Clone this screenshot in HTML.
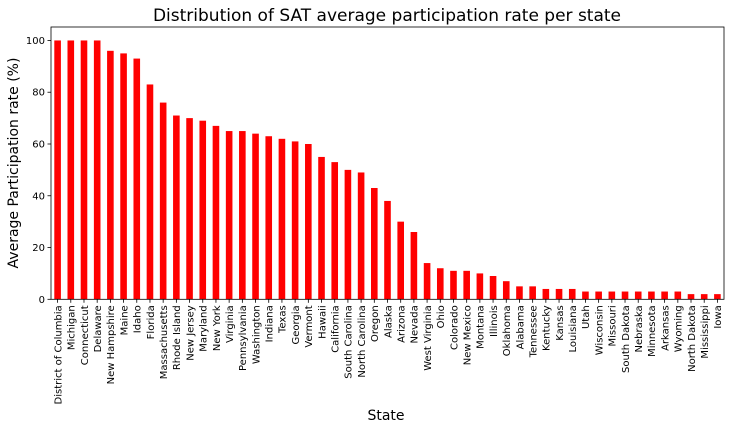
<!DOCTYPE html>
<html><head><meta charset="utf-8"><style>
body{margin:0;background:#fff;}
svg text{font-family:"DejaVu Sans",sans-serif;fill:#000;}
</style></head><body>
<svg id="chart" width="731" height="430">
<text x="387" y="21" font-size="17" text-anchor="middle">Distribution of SAT average participation rate per state</text>
<text transform="translate(18,163) rotate(-90)" font-size="14" text-anchor="middle">Average Participation rate (%)</text>
<text x="386" y="420" font-size="14" text-anchor="middle">State</text>
<g id="bars"></g><g id="axes"></g>
</svg>
<script>
const states=["District of Columbia","Michigan","Connecticut","Delaware","New Hampshire","Maine","Idaho","Florida","Massachusetts","Rhode Island","New Jersey","Maryland","New York","Virginia","Pennsylvania","Washington","Indiana","Texas","Georgia","Vermont","Hawaii","California","South Carolina","North Carolina","Oregon","Alaska","Arizona","Nevada","West Virginia","Ohio","Colorado","New Mexico","Montana","Illinois","Oklahoma","Alabama","Tennessee","Kentucky","Kansas","Louisiana","Utah","Wisconsin","Missouri","South Dakota","Nebraska","Minnesota","Arkansas","Wyoming","North Dakota","Mississippi","Iowa"];
const rates=[100,100,100,100,96,95,93,83,76,71,70,69,67,65,65,64,63,62,61,60,55,53,50,49,43,38,30,26,14,12,11,11,10,9,7,5,5,4,4,4,3,3,3,3,3,3,3,3,2,2,2];
const yTicks=[0,20,40,60,80,100];
const L=51,R=724,T=27,B=299.3,ymax=105.2;
const ns="http://www.w3.org/2000/svg";
const step=(R-L)/states.length;
const xc=i=>L+step*(i+0.5);
const y=v=>B-(v/ymax)*(B-T);
const bars=document.getElementById('bars'),axes=document.getElementById('axes');
function mk(tag,attrs,parent){const e=document.createElementNS(ns,tag);for(const k in attrs)e.setAttribute(k,attrs[k]);parent.appendChild(e);return e;}
rates.forEach((v,i)=>{
 const r=mk('rect',{x:xc(i)-step*0.25,y:y(v),width:step*0.5,height:B-y(v),fill:'#ff0000'},bars);
 
 
 mk('line',{x1:xc(i),x2:xc(i),y1:B,y2:B+3.5,stroke:'#000','stroke-width':0.8},axes);
 const lb=mk('text',{transform:`translate(${xc(i)+3.8},${B+6}) rotate(-90)`,'font-size':'10','text-anchor':'end'},axes);
 lb.textContent=states[i];
 
 
});
yTicks.forEach(v=>{
 mk('line',{x1:L-3.5,x2:L,y1:y(v),y2:y(v),stroke:'#000','stroke-width':0.8},axes);
 const t=mk('text',{x:L-6,y:y(v)+3.5,'font-size':'10','text-anchor':'end'},axes);
 t.textContent=v;
 
 
});
const f=mk('rect',{x:L,y:T,width:R-L,height:B-T,fill:'none',stroke:'#000','stroke-width':0.8},axes);


</script>
</body></html>
